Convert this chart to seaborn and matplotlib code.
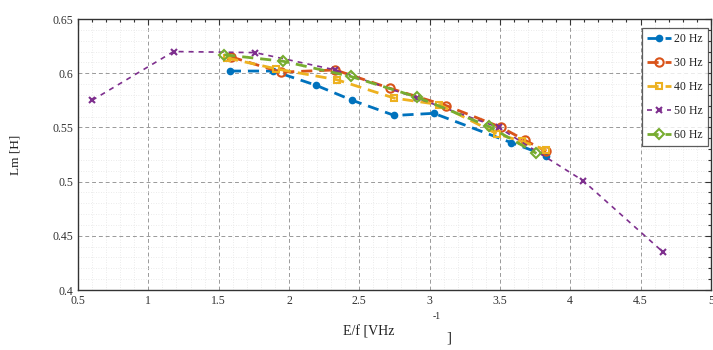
import matplotlib
matplotlib.use('Agg')
import matplotlib.pyplot as plt
from matplotlib.ticker import MultipleLocator
import pandas as pd
import seaborn as sb

# E/f [V/Hz] and Lm [H], one pair of lists per frequency
EF_20 = [1.58, 1.89, 2.19, 2.45, 2.75, 3.03, 3.58, 3.83]
LM_20 = [0.602, 0.602, 0.589, 0.575, 0.561, 0.563, 0.536, 0.524]
EF_30 = [1.59, 1.94, 2.33, 2.72, 3.12, 3.51, 3.68, 3.83]
LM_30 = [0.615, 0.601, 0.603, 0.586, 0.570, 0.550, 0.538, 0.528]
EF_40 = [1.56, 1.91, 2.34, 2.75, 3.07, 3.48, 3.66, 3.83]
LM_40 = [0.614, 0.604, 0.594, 0.577, 0.571, 0.544, 0.537, 0.529]
EF_50 = [0.60, 1.18, 1.76, 2.33, 2.91, 3.49, 4.09, 4.66]
LM_50 = [0.575, 0.620, 0.619, 0.603, 0.577, 0.550, 0.501, 0.435]
EF_60 = [1.54, 1.96, 2.44, 2.91, 3.42, 3.76]
LM_60 = [0.617, 0.611, 0.597, 0.578, 0.551, 0.526]

SERIES = [
    ('20 Hz', EF_20, LM_20),
    ('30 Hz', EF_30, LM_30),
    ('40 Hz', EF_40, LM_40),
    ('50 Hz', EF_50, LM_50),
    ('60 Hz', EF_60, LM_60),
]

X_TICKS = [0.5, 1, 1.5, 2, 2.5, 3, 3.5, 4, 4.5, 5]
X_LABELS = ['0.5', '1', '1.5', '2', '2.5', '3', '3.5', '4', '4.5', '5']
Y_TICKS = [0.4, 0.45, 0.5, 0.55, 0.6, 0.65]
Y_LABELS = ['0.4', '0.45', '0.5', '0.55', '0.6', '0.65']

STYLES = {
    '20 Hz': dict(color='#0072BD', marker='o', mfc='#0072BD', lw=2.0, ls=(0, (4, 2.5)), ms=4),
    '30 Hz': dict(color='#D95319', marker='o', mfc='none', lw=2.0, ls=(0, (4, 2.5)), ms=6),
    '40 Hz': dict(color='#EDB120', marker='s', mfc='none', lw=2.0, ls=(0, (4, 2.5)), ms=5),
    '50 Hz': dict(color='#7E2F8E', marker='x', mfc='#7E2F8E', lw=1.2, ls=(0, (3, 3)), ms=4),
    '60 Hz': dict(color='#77AC30', marker='D', mfc='none', lw=2.0, ls=(0, (4, 2.5)), ms=5),
}

rows = []
for name, xs, ys in SERIES:
    for i, (x, y) in enumerate(zip(xs, ys)):
        rows.append({'freq': name, 'order': i, 'ef': x, 'lm': y})
df = pd.DataFrame(rows)

sb.set_style('white')
plt.rcParams['font.family'] = ['Liberation Serif', 'DejaVu Serif']

fig = plt.figure(figsize=(7.13, 3.5), dpi=100)
ax = fig.add_axes([0.1094, 0.1714, 0.8876, 0.7743])

for name, _, _ in SERIES:
    st = STYLES[name]
    sub = df[df.freq == name]
    sb.lineplot(data=sub, x='ef', y='lm', sort=False, estimator=None, ax=ax,
                color=st['color'], marker=st['marker'], markersize=st['ms'],
                markerfacecolor=st['mfc'], markeredgecolor=st['color'],
                markeredgewidth=1.5, linewidth=st['lw'], label=name)
    # seaborn keeps lines solid without a style mapping, so dash them here
    ax.lines[-1].set_linestyle(st['ls'])

ax.set_xlim(0.5, 5)
ax.set_ylim(0.4, 0.65)
ax.set_xticks(X_TICKS)
ax.set_xticklabels(X_LABELS)
ax.set_yticks(Y_TICKS)
ax.set_yticklabels(Y_LABELS)
ax.xaxis.set_minor_locator(MultipleLocator(0.1))
ax.yaxis.set_minor_locator(MultipleLocator(0.01))
ax.tick_params(which='both', direction='in', top=True, right=True,
               labelsize=8.5, colors='#333333', width=0.8)
ax.tick_params(which='major', length=4)
ax.tick_params(which='minor', length=2.5)
ax.grid(which='major', color='#999999', linestyle=(0, (4, 3)), linewidth=0.7)
ax.grid(which='minor', color='#e4e4e4', linestyle=(0, (1, 2)), linewidth=0.6)
ax.set_axisbelow(True)
for sp in ax.spines.values():
    sp.set_color('#333333')
    sp.set_linewidth(1.0)

ax.set_xlabel('')
ax.set_ylabel('Lm [H]', fontsize=9.5, color='#222222', labelpad=22)

# x label is split the way the reference renders it
fig.text(0.517, 0.051, 'E/f [VHz', fontsize=10, color='#222222', ha='center', va='center')
fig.text(0.613, 0.097, '-1', fontsize=7, color='#222222', ha='center', va='center')
fig.text(0.629, 0.034, ']', fontsize=11, color='#222222', ha='center', va='center')

leg = ax.legend(loc='upper right', bbox_to_anchor=(1.0, 0.975), fontsize=8.5,
                frameon=True, fancybox=False, edgecolor='#333333',
                handlelength=2.0, labelspacing=1.0, borderpad=0.45,
                handletextpad=0.3, borderaxespad=0.2)
leg.get_frame().set_linewidth(0.9)
for t in leg.get_texts():
    t.set_color('#222222')

fig.savefig('out.png', dpi=100)
